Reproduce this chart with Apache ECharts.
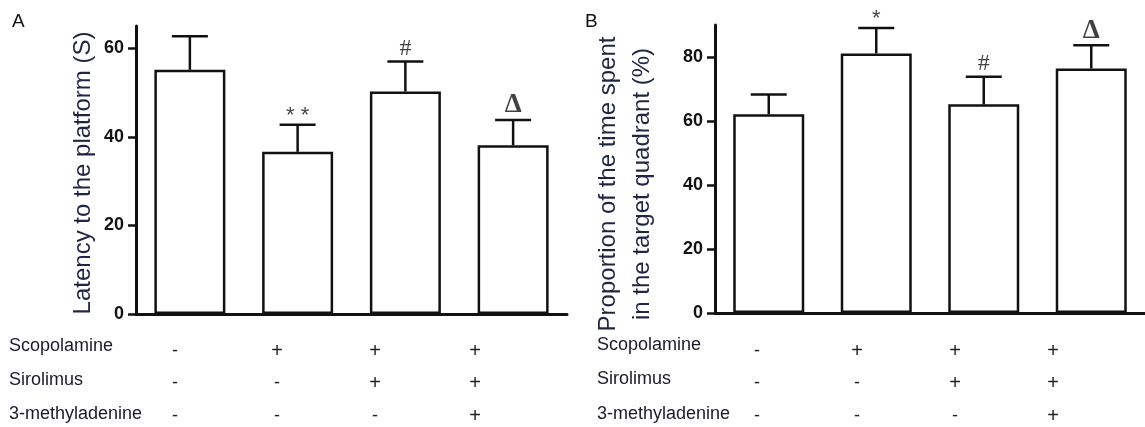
<!DOCTYPE html>
<html><head><meta charset="utf-8">
<script src="https://cdn.jsdelivr.net/npm/echarts@6/dist/echarts.min.js"></script>
<style>html,body{margin:0;padding:0;background:#fff}#c{width:1145px;height:427px}</style>
</head><body><div id="c"></div>
<script>
// ---- data ----
const groups = ['Control', 'Scopolamine', 'Scopolamine + Sirolimus', 'Scopolamine + Sirolimus + 3-MA'];
const latencyMean = [55.1, 36.6, 50.2, 38.1];
const latencySD = [7.6, 6.1, 6.8, 5.7];
const latencyMarks = ['', '**', '#', 'Δ'];
const proportionMean = [62.1, 81.1, 65.2, 76.4];
const proportionSD = [6.2, 8.0, 8.6, 7.3];
const proportionMarks = ['', '*', '#', 'Δ'];
const latencyTicks = [0, 20, 40, 60];
const proportionTicks = [0, 20, 40, 60, 80];
const rowNames = ['Scopolamine', 'Sirolimus', '3-methyladenine'];
const scopolamine = ['-', '+', '+', '+'];
const sirolimus = ['-', '-', '+', '+'];
const methyladenine = ['-', '-', '-', '+'];
const panelLetters = ['A', 'B'];
const latencyName = 'Latency to the platform (S)';
const proportionName = 'Proportion of the time spent\nin the target quadrant (%)';

// ---- layout / style ----
const FONT = '"Liberation Sans", Arial, sans-serif';
const INK = '#111';
const NAMECOL = '#1e2545';
const chart = echarts.init(document.getElementById('c'), null, {renderer: 'canvas'});

function xAxisCfg(gi) {
  return {
    type: 'category', gridIndex: gi, data: groups,
    axisLine: {lineStyle: {color: INK, width: 3}},
    axisTick: {alignWithLabel: true, length: 5, lineStyle: {color: INK, width: 2}},
    axisLabel: {show: false}, splitLine: {show: false}
  };
}
function yAxisCfg(gi, max, ticks, name, gap, pad) {
  return {
    type: 'value', gridIndex: gi, min: 0, max: max,
    name: name, nameLocation: 'middle', nameGap: gap, nameRotate: 90,
    nameTextStyle: {fontFamily: FONT, fontSize: 24, color: NAMECOL, lineHeight: 34, padding: pad},
    axisLine: {show: true, lineStyle: {color: INK, width: 3}},
    axisTick: {show: true, length: 8, customValues: ticks, lineStyle: {color: INK, width: 2.5}},
    axisLabel: {customValues: ticks, fontFamily: FONT, fontWeight: 'bold', fontSize: 18, color: INK, margin: 12},
    splitLine: {show: false}
  };
}
function barSeries(i, mean) {
  return {
    type: 'bar', xAxisIndex: i, yAxisIndex: i, data: mean, barWidth: 71,
    itemStyle: {color: '#fff', borderColor: INK, borderWidth: 2.5}, z: 3, silent: true
  };
}
function errSeries(i, mean, sd) {
  return {
    type: 'custom', xAxisIndex: i, yAxisIndex: i, silent: true, z: 2,
    encode: {x: 0, y: 2},
    data: mean.map((m, k) => [k, m, +(m + sd[k]).toFixed(2)]),
    renderItem(params, api) {
      const x = api.value(0);
      const p0 = api.coord([x, api.value(1)]);
      const p1 = api.coord([x, api.value(2)]);
      const hw = 18;
      const st = {stroke: INK, lineWidth: 2.5};
      return {type: 'group', children: [
        {type: 'line', shape: {x1: p0[0], y1: p0[1], x2: p1[0], y2: p1[1]}, style: st},
        {type: 'line', shape: {x1: p1[0] - hw, y1: p1[1], x2: p1[0] + hw, y2: p1[1]}, style: st}
      ]};
    }
  };
}
function markStyle(m) {
  if (m === '#') return {fontFamily: '"Liberation Serif", "Times New Roman", serif', fontSize: 24, distance: 1};
  if (m === 'Δ') return {fontFamily: '"Liberation Serif", "Times New Roman", serif', fontSize: 27, fontWeight: 'bold', distance: 1};
  return {fontFamily: FONT, fontSize: 22, distance: -2};
}
function markSeries(i, mean, sd, marks) {
  return {
    type: 'scatter', xAxisIndex: i, yAxisIndex: i, symbolSize: 0, silent: true, z: 4,
    data: mean.map((m, k) => ({
      value: [k, m + sd[k]],
      label: Object.assign({show: !!marks[k], position: 'top', color: INK,
        formatter: marks[k].split('').join(' ')}, markStyle(marks[k]))
    }))
  };
}

// table as text
const rows = [scopolamine, sirolimus, methyladenine];
const tables = [
  {labelX: 9, labelY: [346, 380, 414], colX: [175, 277, 375, 475], signY: [351, 383, 416]},
  {labelX: 597, labelY: [345, 379, 414], colX: [757, 857, 955, 1053], signY: [351, 383, 416]}
];
const graphics = [];
tables.forEach(t => {
  rowNames.forEach((n, r) => {
    graphics.push({type: 'text', x: t.labelX, y: t.labelY[r],
      style: {text: n, font: '18px ' + FONT, fill: '#1a1a2a', textVerticalAlign: 'middle', textAlign: 'left'}});
    rows[r].forEach((s, c) => {
      graphics.push({type: 'text', x: t.colX[c], y: t.signY[r],
        style: {text: s, font: (s === '+' ? '20px ' : '18px ') + FONT, fill: '#222', textAlign: 'center', textVerticalAlign: 'middle'}});
    });
  });
});
[[12, 12], [585, 12]].forEach((p, k) => {
  graphics.push({type: 'text', x: p[0], y: p[1],
    style: {text: panelLetters[k], font: '19px ' + FONT, fill: INK, textVerticalAlign: 'top'}});
});

chart.setOption({
  animation: false,
  backgroundColor: '#fff',
  grid: [
    {left: 136, top: 26, width: 431, height: 288},
    {left: 715, top: 25, width: 430, height: 288}
  ],
  xAxis: [xAxisCfg(0), xAxisCfg(1)],
  yAxis: [
    yAxisCfg(0, 65, latencyTicks, latencyName, 34, [0, 6, 0, 0]),
    yAxisCfg(1, 90, proportionTicks, proportionName, 56, [0, 30, 0, 0])
  ],
  series: [
    barSeries(0, latencyMean), errSeries(0, latencyMean, latencySD), markSeries(0, latencyMean, latencySD, latencyMarks),
    barSeries(1, proportionMean), errSeries(1, proportionMean, proportionSD), markSeries(1, proportionMean, proportionSD, proportionMarks)
  ],
  graphic: graphics
});
</script></body></html>
